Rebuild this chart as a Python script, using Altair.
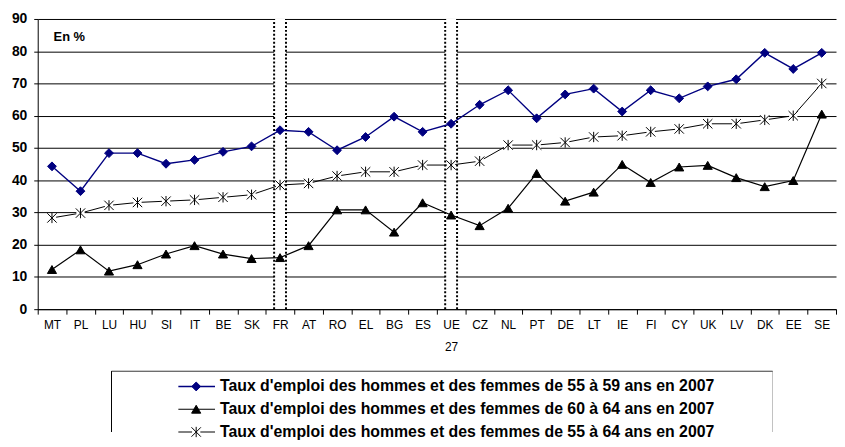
import altair as alt
import pandas as pd

countries = ["MT", "PL", "LU", "HU", "SI", "IT", "BE", "SK", "FR", "AT", "RO", "EL", "BG", "ES",
             "UE 27", "CZ", "NL", "PT", "DE", "LT", "IE", "FI", "CY", "UK", "LV", "DK", "EE", "SE"]

series_names = [
    "Taux d'emploi des hommes et des femmes de 55 à 59 ans en 2007",
    "Taux d'emploi des hommes et des femmes de 60 à 64 ans en 2007",
    "Taux d'emploi des hommes et des femmes de 55 à 64 ans en 2007",
]

s55_59 = [44.3, 36.6, 48.4, 48.4, 45.1, 46.3, 48.8, 50.5, 55.5, 55.0, 49.3, 53.4, 59.7, 55.0,
          57.5, 63.4, 67.9, 59.2, 66.6, 68.4, 61.3, 67.9, 65.4, 69.1, 71.3, 79.5, 74.5, 79.5]
s60_64 = [12.3, 18.4, 11.8, 13.8, 17.1, 19.7, 17.1, 15.7, 16.0, 19.7, 30.8, 30.8, 23.9, 33.0,
          29.2, 25.9, 31.3, 42.1, 33.5, 36.3, 44.9, 39.3, 44.1, 44.6, 40.8, 38.0, 39.9, 60.5]
s55_64 = [28.3, 29.8, 32.2, 33.1, 33.5, 33.9, 34.7, 35.5, 38.5, 39.0, 41.3, 42.6, 42.6, 44.7,
          44.7, 45.9, 50.9, 50.9, 51.7, 53.4, 53.8, 55.0, 55.9, 57.5, 57.5, 58.7, 60.0, 70.0]

highlighted = ["FR", "UE 27"]
unit_label = ["En %"]
y_ticks = [0, 10, 20, 30, 40, 50, 60, 70, 80, 90]

rows = []
for name, vals in zip(series_names, [s55_59, s60_64, s55_64]):
    for i, (c, v) in enumerate(zip(countries, vals)):
        rows.append({"pays": c, "serie": name, "taux": v, "idx": i})
df = pd.DataFrame(rows)
df_star = df[df["serie"] == series_names[2]]
hl_df = pd.DataFrame({"pays": highlighted})
unit_df = pd.DataFrame({"t": unit_label})
leg_df = pd.DataFrame({"serie": series_names, "rang": list(range(len(series_names)))})
leg_star = leg_df[leg_df["serie"] == series_names[2]]
one_df = pd.DataFrame({"k": [0]})

star = "M-1,-1L1,1M-1,1L1,-1M0,-1.1L0,1.1"
dom = series_names
stroke_scale = alt.Scale(domain=dom, range=["#000080", "#000000", "#000000"])
fill_scale = alt.Scale(domain=dom, range=["#000080", "#000000", "#ffffff"])
shape_scale = alt.Scale(domain=dom, range=["diamond", "triangle-up", star])
size_scale = alt.Scale(domain=dom, range=[80, 90, 75])
sw_scale = alt.Scale(domain=dom, range=[1.4, 1, 1])

W, H = 806, 293

x_axis = alt.Axis(title=None, labelAngle=0, tickBand="extent", tickSize=5, tickColor="black",
                  domainColor="black", labelFontSize=12, labelColor="black", labelPadding=6,
                  labelExpr="datum.value == 'UE 27' ? ['UE', '27'] : datum.value",
                  labelLineHeight=22, zindex=1, grid=False)
x_scale = alt.Scale(paddingInner=0, paddingOuter=0)
y_axis = alt.Axis(title=None, values=y_ticks, grid=True, gridColor="black", gridWidth=1,
                  gridOpacity=1, tickSize=4, tickColor="black", domainColor="black",
                  labelFontSize=14, labelFontWeight="bold", labelColor="black", labelPadding=7)
y_scale = alt.Scale(domain=[0, 90], nice=False, zero=True)

x_enc = alt.X("pays:N", sort=countries, scale=x_scale, axis=x_axis)
y_enc = alt.Y("taux:Q", scale=y_scale, axis=y_axis)
y_lo = alt.YDatum(0, type="quantitative", scale=y_scale, axis=y_axis)
y_hi = alt.Y2Datum(90)

boxes = alt.Chart(hl_df).mark_bar(color="white", size=12).encode(
    x=x_enc, y=y_lo, y2=y_hi)
dots_l = alt.Chart(hl_df).mark_rule(color="black", strokeWidth=2, strokeDash=[2, 2], xOffset=-6).encode(
    x=x_enc, y=y_lo, y2=y_hi)
dots_r = alt.Chart(hl_df).mark_rule(color="black", strokeWidth=2, strokeDash=[2, 2], xOffset=6).encode(
    x=x_enc, y=y_lo, y2=y_hi)

lines = alt.Chart(df).mark_line().encode(
    x=x_enc, y=y_enc,
    stroke=alt.Stroke("serie:N", scale=stroke_scale, legend=None),
    strokeWidth=alt.StrokeWidth("serie:N", scale=sw_scale, legend=None),
    order=alt.Order("idx:Q"),
)
gaps = alt.Chart(df_star).mark_square(color="white", size=70, opacity=1).encode(
    x=x_enc, y=y_enc)
points = alt.Chart(df).mark_point(filled=False, opacity=1, strokeWidth=1).encode(
    x=x_enc, y=y_enc,
    stroke=alt.Stroke("serie:N", scale=stroke_scale, legend=None),
    fill=alt.Fill("serie:N", scale=fill_scale, legend=None),
    shape=alt.Shape("serie:N", scale=shape_scale, legend=None),
    size=alt.Size("serie:N", scale=size_scale, legend=None),
)
unit_txt = alt.Chart(unit_df).mark_text(align="left", baseline="middle", fontWeight="bold",
                                        fontSize=13, color="black").encode(
    x=alt.value(16), y=alt.value(18), text="t:N")

main = alt.layer(boxes, dots_l, dots_r, lines, gaps, points, unit_txt).properties(
    width=W, height=H, view=alt.ViewBackground(strokeWidth=0))

LW, LH = 742, 62
# legend rows spread down the frame, 23 px apart
ly = alt.Y("rang:Q", scale=alt.Scale(domain=[-0.696, 2.0], reverse=True, nice=False, zero=False),
           axis=None)
frame = alt.Chart(one_df).mark_rect(filled=False, color="black", strokeWidth=1, clip=True).encode(
    x=alt.value(74.5), x2=alt.value(742.5), y=alt.value(0.5), y2=alt.value(LH + 20))
lseg = alt.Chart(leg_df).mark_rule().encode(
    y=ly, x=alt.value(142), x2=alt.value(179),
    stroke=alt.Stroke("serie:N", scale=stroke_scale, legend=None),
    strokeWidth=alt.StrokeWidth("serie:N", scale=sw_scale, legend=None))
lgap = alt.Chart(leg_star).mark_square(color="white", size=70, opacity=1).encode(
    y=ly, x=alt.value(160))
lpts = alt.Chart(leg_df).mark_point(filled=False, opacity=1, strokeWidth=1).encode(
    y=ly, x=alt.value(160),
    stroke=alt.Stroke("serie:N", scale=stroke_scale, legend=None),
    fill=alt.Fill("serie:N", scale=fill_scale, legend=None),
    shape=alt.Shape("serie:N", scale=shape_scale, legend=None),
    size=alt.Size("serie:N", scale=size_scale, legend=None))
ltxt = alt.Chart(leg_df).mark_text(align="left", baseline="middle", fontWeight="bold",
                                   fontSize=16, color="black").encode(
    y=ly, x=alt.value(184), text="serie:N")

legend = alt.layer(frame, lseg, lgap, lpts, ltxt).properties(
    width=LW, height=LH, view=alt.ViewBackground(strokeWidth=0))

chart = alt.vconcat(main, legend, spacing=18).resolve_scale(
    x="independent", y="independent").properties(
    padding={"left": 3, "top": 2, "right": 0, "bottom": 0}
).configure_view(strokeWidth=0).configure(font="Liberation Sans")

chart.save("out.html", embed_options={"renderer": "svg", "actions": False})
